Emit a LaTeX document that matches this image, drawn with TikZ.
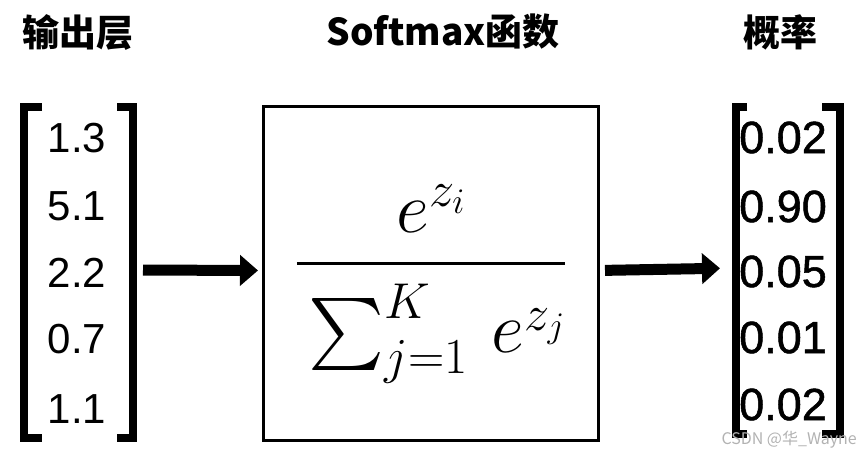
\RequirePackage{fix-cm}
\documentclass[tikz,border=0pt]{standalone}
\usepackage[no-math]{fontspec}
\DeclareFontShape{OMX}{cmex}{m}{n}{<->cmex10}{}
\newfontfamily\cjk{Noto Sans CJK SC}
\newfontfamily\numfont{Liberation Sans}
\newfontfamily\numbold[FakeBold=1.2]{Liberation Sans}
\usetikzlibrary{arrows.meta,positioning}

\begin{document}
\begin{tikzpicture}[
  x=1pt, y=-1pt,
  title/.style={
    font=\cjk\bfseries\fontsize{37}{40}\selectfont,
    inner sep=0pt
  },
  vec/.style={
    inner sep=0pt,
    outer sep=0pt
  },
  brk/.style={
    line width=8pt,
    line join=miter
  },
  inval/.style={
    font=\numfont\fontsize{42}{46}\selectfont,
    anchor=base,
    inner sep=0pt
  },
  prob/.style={
    font=\numbold\fontsize{45}{48}\selectfont,
    anchor=base,
    inner sep=0pt
  },
  fnbox/.style={
    draw,
    line width=3pt,
    minimum width=335pt,
    minimum height=334pt,
    inner sep=0pt,
    outer sep=0pt
  },
  flow/.style={
    line width=11pt,
    -{Triangle[length=18pt,width=30pt]}
  },
  wmark/.style={
    font=\cjk\fontsize{16}{18}\selectfont,
    text=black!30,
    inner sep=0pt
  }
]

\useasboundingbox (0,0) rectangle (857,455);

% titles
\node[title] (tin) at (78,32) {输出层};
\node[title] (tfn) at (443,32) {Softmax函数};
\node[title] (tout) at (780,32) {概率};

% output layer vector
\node[vec, minimum width=108.5pt, minimum height=331pt] (logits) at (78.25,272.5) {};
\draw[brk] ([xshift=18pt]logits.north west) -- (logits.north west)
  -- (logits.south west) -- ([xshift=18pt]logits.south west);
\draw[brk] ([xshift=-15.5pt]logits.north east) -- (logits.north east)
  -- (logits.south east) -- ([xshift=-15.5pt]logits.south east);

\node[inval] (z1) at (77,152) {1.3};
\node[inval] (z2) at (77,220) {5.1};
\node[inval] (z3) at (77,287) {2.2};
\node[inval] (z4) at (77,353) {0.7};
\node[inval] (z5) at (77,423) {1.1};

% softmax box
\node[fnbox] (softmax) at (430.5,273) {};
\node[anchor=base, inner sep=0pt] (frac) at (431,281)
  {\fontsize{72}{80}\selectfont$\displaystyle{e^{z_i}\above 3pt\rule{0pt}{1.1em}\sum_{j=1}^{K}\,e^{z_j}}$};

% probability vector
\node[vec, minimum width=103.5pt, minimum height=327pt] (probs) at (787.75,270.5) {};
\draw[brk] ([xshift=11pt]probs.north west) -- (probs.north west)
  -- (probs.south west) -- ([xshift=11pt]probs.south west);
\draw[brk] ([xshift=-17.5pt]probs.north east) -- (probs.north east)
  -- (probs.south east) -- ([xshift=-17.5pt]probs.south east);

\node[prob] (p1) at (783,153) {0.02};
\node[prob] (p2) at (783,222) {0.90};
\node[prob] (p3) at (783,287) {0.05};
\node[prob] (p4) at (783,353) {0.01};
\node[prob] (p5) at (783,420) {0.02};

% arrows
\draw[flow, shorten <=10.5pt, shorten >=5pt]
  ([yshift=2.5pt]logits.east) -- ([yshift=2.5pt]softmax.west);
\draw[flow, shorten <=7pt, shorten >=16pt]
  ([yshift=2.5pt]softmax.east) -- ([yshift=2.5pt]probs.west);

\node[wmark, anchor=east] (wm) at (857,440) {CSDN @华\_Wayne};

\end{tikzpicture}
\end{document}
